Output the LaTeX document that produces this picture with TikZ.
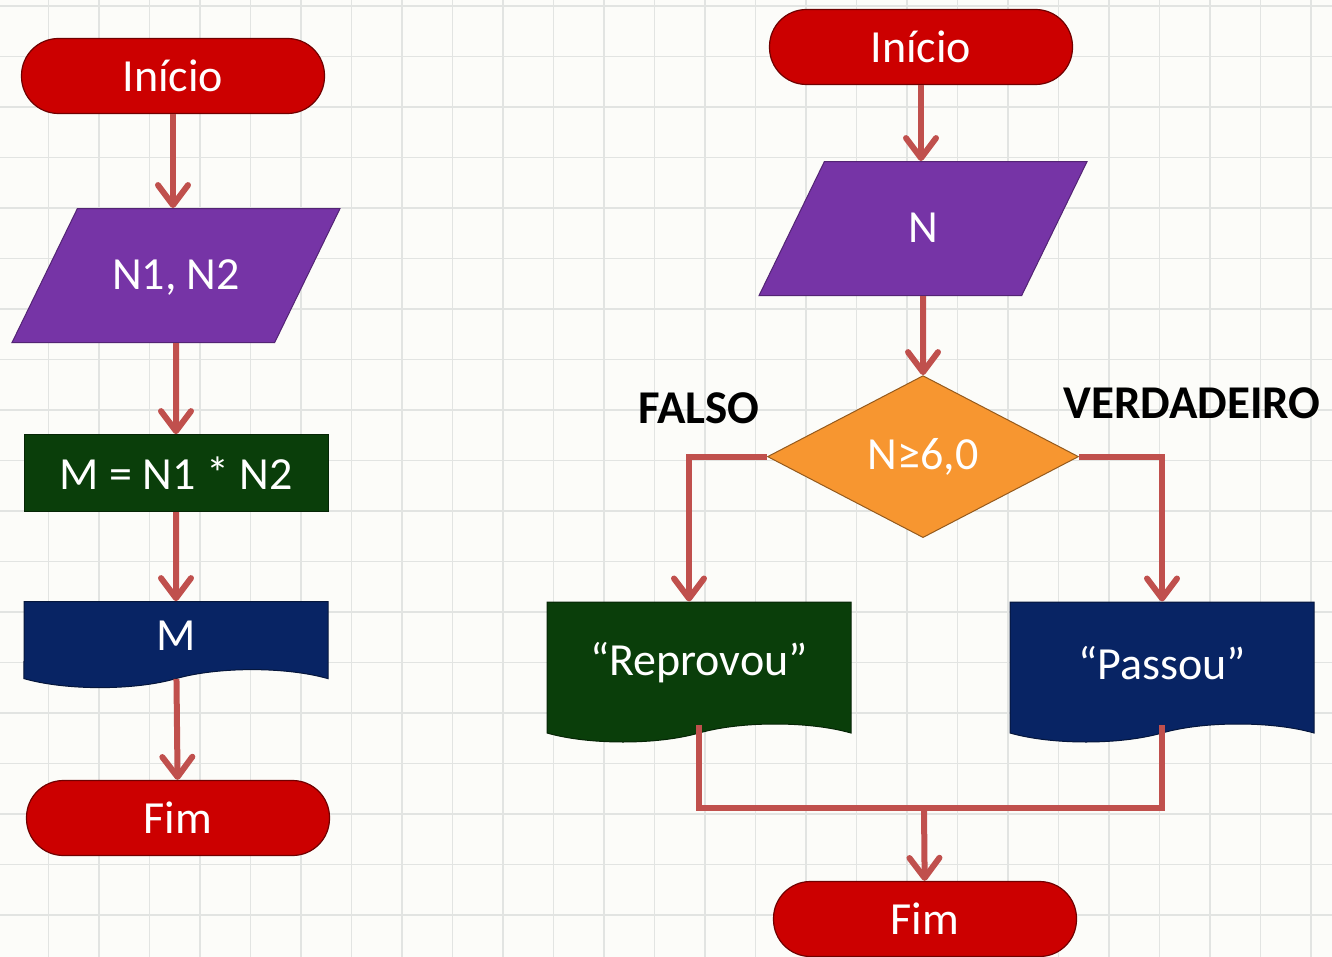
\documentclass[tikz,border=0pt]{standalone}
\usepackage{fontspec}
\setmainfont{Carlito}
\usetikzlibrary{shapes.geometric,shapes.symbols,arrows.meta,positioning}
\definecolor{fundo}{RGB}{252,252,249}
\definecolor{grade}{RGB}{226,228,226}
\definecolor{vermelho}{RGB}{204,0,0}
\definecolor{roxo}{RGB}{118,52,166}
\definecolor{verde}{RGB}{10,62,10}
\definecolor{azul}{RGB}{8,36,100}
\definecolor{laranja}{RGB}{247,150,48}
\definecolor{seta}{RGB}{192,80,77}
\newcommand{\fonte}{\fontsize{46}{50}\selectfont}
\tikzstyle{inicio} = [rectangle, rounded corners=37pt, minimum width=303pt, minimum height=75pt, draw=vermelho!55!black, line width=1.2pt, fill=vermelho, text=white, font=\fonte]
\tikzstyle{entrada} = [trapezium, trapezium left angle=64, trapezium right angle=116, trapezium stretches body=true, minimum width=328pt, text height=36pt, text depth=8pt, inner ysep=45pt, draw=roxo!70!black, line width=1pt, fill=roxo, text=white, font=\fonte]
\tikzstyle{processo} = [rectangle, minimum width=304pt, minimum height=77pt, draw=verde!60!black, line width=1pt, fill=verde, text=white, font=\fonte]
\tikzstyle{saida} = [tape, tape bend top=none, tape bend bottom=in and out, tape bend height=18pt, minimum width=304pt, line width=1pt, text=white, font=\fonte]
\tikzstyle{decisao} = [diamond, aspect=1.92, minimum width=311pt, minimum height=162pt, inner sep=0pt, draw=laranja!60!black, line width=1pt, fill=laranja, text=white, font=\fonte]
\tikzstyle{rotulo} = [font=\bfseries\fontsize{47}{50}\selectfont]
\tikzstyle{linha} = [draw=seta, line width=6pt]
\tikzstyle{arrow} = [linha, -{Straight Barb[round,length=20pt,width=30pt]}]

\begin{document}
\begin{tikzpicture}[x=1pt,y=-1pt]
\useasboundingbox (0,0) rectangle (1332,957);
\fill[fundo] (0,0) rectangle (1332,957);
\foreach \i in {0,...,26} \draw[grade, line width=1.1pt] ({-2+50.5*\i},0) -- ({-2+50.5*\i},957);
\foreach \j in {0,...,18} \draw[grade, line width=1.1pt] (0,{6+50.5*\j}) -- (1332,{6+50.5*\j});

% primeiro fluxograma
\node (ini1) [inicio] at (173,76) {Início};
\node (ent1) [entrada, below=94pt of ini1, xshift=3pt] {N1, N2};
\node (proc) [processo, below=91pt of ent1] {M = N1 * N2};
\node (said1) [saida, fill=azul, draw=azul!60!black, minimum height=86pt, below=89pt of proc] {M};
\node (fim1) [inicio] at (178,818) {Fim};

\draw [arrow] (ini1) -- (ini1 |- ent1.north);
\draw [arrow] (ent1) -- (proc);
\draw [arrow] (proc) -- (said1);
\draw [arrow] (said1) -- (fim1);

% segundo fluxograma
\node (ini2) [inicio] at (921,47) {Início};
\node (ent2) [entrada, below=76pt of ini2, xshift=2pt] {N};
\node (dec) [decisao, below=79pt of ent2] {N≥6,0};
\node (reprov) [saida, fill=verde, draw=verde!60!black, minimum height=140pt] at (699,663) {“Reprovou”};
\node (passou) [saida, fill=azul, draw=azul!60!black, minimum height=140pt] at (1162,663) {“Passou”};
\node (fim2) [inicio] at (925,919) {Fim};
\coordinate (junc) at (924,808);

\node (falso) [rotulo] at (699,408) {FALSO};
\node (verd) [rotulo] at (1192,403) {VERDADEIRO};

\draw [arrow] (ini2) -- (ini2 |- ent2.north);
\draw [arrow] (ent2) -- (dec);
\draw [arrow] (dec.west) -| ([xshift=-10pt]reprov.north);
\draw [arrow] (dec.east) -| (passou.north);
\draw [linha] (reprov.south) |- (junc) -| (passou.south);
\draw [arrow] (junc) -- (fim2);
\end{tikzpicture}
\end{document}
